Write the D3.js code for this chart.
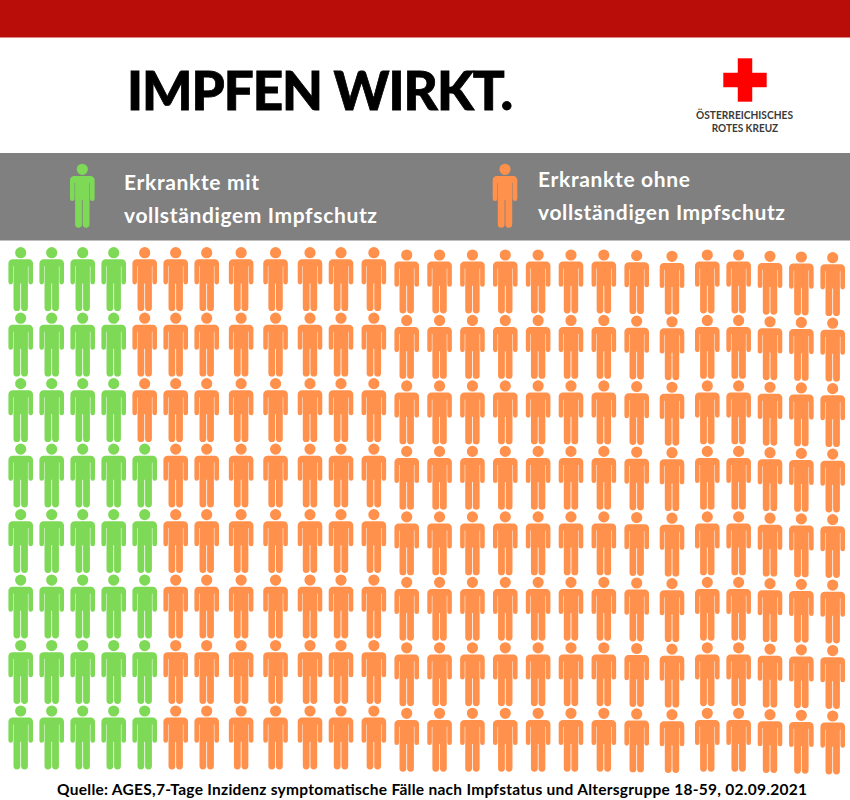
<!DOCTYPE html>
<html lang="de">
<head>
<meta charset="utf-8">
<script src="https://cdn.jsdelivr.net/npm/d3@7"></script>
<style>
html,body{margin:0;padding:0;background:#fff}
svg{display:block}
text{font-family:Lato,"Open Sans",sans-serif}
</style>
</head>
<body>
<div id="chart"></div>
<script>
const titleText = "IMPFEN WIRKT.";
const categories = ["Erkrankte mit vollständigem Impfschutz", "Erkrankte ohne vollständigen Impfschutz"];
const legendLines = [["Erkrankte mit", "vollständigem Impfschutz"], ["Erkrankte ohne", "vollständigen Impfschutz"]];
const sourceText = "Quelle: AGES,7-Tage Inzidenz symptomatische Fälle nach Impfstatus und Altersgruppe 18-59, 02.09.2021";
const logoLines = ["ÖSTERREICHISCHES", "ROTES KREUZ"];
const rowIndex = [0, 1, 2, 3, 4, 5, 6, 7];
const vaccinatedPerRow = [4, 4, 4, 5, 5, 5, 5, 5];
const peoplePerRow = [26, 26, 26, 26, 26, 26, 26, 26];

const W = 850, H = 800;
const svg = d3.select("#chart").append("svg").attr("width", W).attr("height", H).attr("viewBox", [0, 0, W, H]);
const green = "#7ed957", orange = "#ff914d";
const colour = d3.scaleOrdinal().domain(categories).range([green, orange]);

// background bands
svg.append("rect").attr("x", 0).attr("y", 0).attr("width", W).attr("height", 37.5).attr("fill", "#b80d09");
svg.append("rect").attr("x", 0).attr("y", 153).attr("width", W).attr("height", 87.5).attr("fill", "#808080");

// scales: the icons sit on a hand-laid, slightly uneven grid
const x = d3.scaleLinear().domain([0, 6, 9, 10, 19, 21, 25]).range([20.7, 206.7, 310, 341, 636.7, 707.3, 832.7]);
const y = d3.scaleLinear().domain([0, 7]).range([252.7, 711]);
const drift = d3.scaleLinear().domain([0, 11, 12, 18, 20, 21, 22, 23, 25]).range([0, 0, 2.3, 2.3, 3.6, 2.3, 2.3, 3.6, 5]);

// person glyph, origin at head centre
function personPath() {
  const p = d3.path();
  const hr = 5.6;
  p.moveTo(hr, 0); p.arc(0, 0, hr, 0, 2 * Math.PI); p.closePath();
  const sh = 6.6, ow = 12.3, aw = 7.7, tw = 7.2, lg = 0.4, armEnd = 29.4, legEnd = 55.0, crotch = 30.7, pit = 13.5;
  p.moveTo(-ow, armEnd);
  p.lineTo(-ow, sh + 4.2);
  p.arcTo(-ow, sh, -ow + 4.2, sh, 4.2);
  p.lineTo(ow - 4.2, sh);
  p.arcTo(ow, sh, ow, sh + 4.2, 4.2);
  p.lineTo(ow, armEnd);
  p.arc((ow + aw) / 2, armEnd, (ow - aw) / 2, 0, Math.PI);
  p.lineTo(aw, pit);
  p.lineTo(tw, pit);
  p.lineTo(tw, legEnd);
  p.arc((tw + lg) / 2, legEnd, (tw - lg) / 2, 0, Math.PI);
  p.lineTo(lg, crotch);
  p.lineTo(-lg, crotch);
  p.lineTo(-lg, legEnd);
  p.arc(-(tw + lg) / 2, legEnd, (tw - lg) / 2, 0, Math.PI);
  p.lineTo(-tw, pit);
  p.lineTo(-aw, pit);
  p.lineTo(-aw, armEnd);
  p.arc(-(ow + aw) / 2, armEnd, (ow - aw) / 2, 0, Math.PI);
  p.closePath();
  return p.toString();
}
const glyph = personPath();

// grid of people
const people = rowIndex.flatMap(r => d3.range(peoplePerRow[r]).map(c => ({
  r, c, category: c < vaccinatedPerRow[r] ? categories[0] : categories[1]
})));
svg.append("g").selectAll("path").data(people).join("path")
  .attr("d", glyph)
  .attr("transform", d => `translate(${x(d.c)},${y(d.r) + drift(d.c)})`)
  .attr("fill", d => colour(d.category));

// title
svg.append("text").attr("x", 127).attr("y", 109.6).attr("textLength", 386).attr("lengthAdjust", "spacing")
  .attr("font-size", 53).attr("font-weight", 900).attr("fill", "#000")
  .attr("stroke", "#000").attr("stroke-width", 0.8).text(titleText);

// logo
const cross = d3.scaleLinear().domain([0, 3]).range([0, 43.4]);
const logo = svg.append("g").attr("transform", "translate(723.3,58.3)").attr("fill", "#ff0000");
logo.append("rect").attr("x", cross(1)).attr("y", cross(0)).attr("width", cross(1)).attr("height", cross(3));
logo.append("rect").attr("x", cross(0)).attr("y", cross(1)).attr("width", cross(3)).attr("height", cross(1));
const logoGeom = [[696, 119.3, 97], [711.7, 131.7, 66.5]];
svg.append("g").selectAll("text").data(logoLines).join("text")
  .attr("x", (d, i) => logoGeom[i][0]).attr("y", (d, i) => logoGeom[i][1])
  .attr("textLength", (d, i) => logoGeom[i][2]).attr("lengthAdjust", "spacingAndGlyphs")
  .attr("font-size", 10.5).attr("font-weight", 700).attr("fill", "#3a3a3a").text(d => d);

// legend
const legendGeom = [
  {gx: 82.3, tx: 124, b: [190, 223], w: [135, 253]},
  {gx: 505, tx: 538, b: [186.5, 220], w: [152, 247]}
];
const leg = svg.append("g").selectAll("g").data(categories).join("g");
leg.append("path").attr("d", glyph)
  .attr("transform", (d, i) => `translate(${legendGeom[i].gx},169.3)`)
  .attr("fill", d => colour(d));
leg.each(function (d, i) {
  d3.select(this).selectAll("text").data(legendLines[i]).join("text")
    .attr("x", legendGeom[i].tx).attr("y", (t, j) => legendGeom[i].b[j])
    .attr("textLength", (t, j) => legendGeom[i].w[j]).attr("lengthAdjust", "spacing")
    .attr("font-size", 21).attr("font-weight", 700).attr("fill", "#fff").text(t => t);
});

// source
svg.append("text").attr("x", 57).attr("y", 795).attr("textLength", 750).attr("lengthAdjust", "spacing")
  .attr("font-size", 15.5).attr("font-weight", 700).attr("fill", "#000").text(sourceText);
</script>
</body>
</html>
